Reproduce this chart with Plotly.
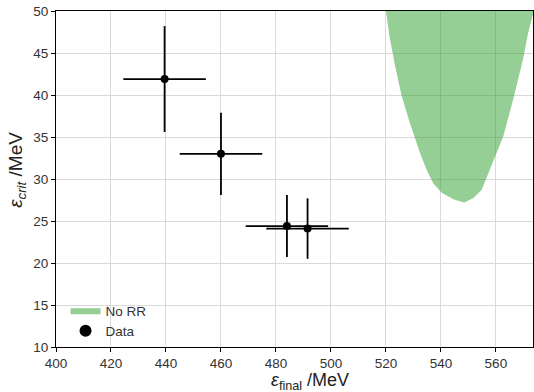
import plotly.graph_objects as go

# Data points
data_x = [439.5, 460.0, 484.0, 491.5]
data_y = [41.9, 33.0, 24.4, 24.1]
data_xerr = [15.0, 15.0, 15.0, 15.0]
data_yerr = [6.3, 4.9, 3.7, 3.6]

# "No RR" region boundary (left edge top->bottom, right edge bottom->top)
rr_left_x = [520.0, 521.5, 523.3, 525.7, 528.7, 532.4, 534.8, 537.2, 540.2, 544.5, 548.5]
rr_left_y = [50.0, 46.6, 43.5, 39.9, 36.7, 33.1, 31.1, 29.5, 28.4, 27.6, 27.2]
rr_right_x = [551.8, 554.8, 557.2, 560.2, 562.7, 566.3, 569.9, 571.8, 573.8, 573.8]
rr_right_y = [27.75, 28.7, 30.7, 33.1, 35.1, 39.5, 44.3, 47.5, 50.0, 50.0]

x_ticks = [400, 420, 440, 460, 480, 500, 520, 540, 560]
y_ticks = [10, 15, 20, 25, 30, 35, 40, 45, 50]

x_title = "<i>ε</i><sub>final</sub> /MeV"
y_title = "<i>ε<sub>crit</sub></i> /MeV"

FONT = "Liberation Sans, Arial, sans-serif"

fig = go.Figure()

fig.add_trace(go.Scatter(
    x=rr_left_x + rr_right_x,
    y=rr_left_y + rr_right_y,
    fill="toself",
    fillcolor="rgba(44,160,44,0.5)",
    mode="lines",
    line=dict(width=0, color="rgba(44,160,44,0.5)"),
    name="No RR",
))

fig.add_trace(go.Scatter(
    x=data_x, y=data_y,
    mode="markers",
    marker=dict(color="black", size=8),
    error_x=dict(type="data", array=data_xerr, color="black", thickness=1.8, width=0),
    error_y=dict(type="data", array=data_yerr, color="black", thickness=1.8, width=0),
    name="Data",
))

# semi-transparent legend frame
fig.add_shape(type="rect", xref="paper", yref="paper",
              x0=0.003, x1=0.325, y0=0.005, y1=0.27,
              fillcolor="rgba(255,255,255,0.85)", line=dict(width=0),
              layer="between")

# axis titles as annotations
fig.add_annotation(text=x_title, xref="paper", yref="paper",
                   x=0.532, y=-0.102, xanchor="center", yanchor="middle",
                   showarrow=False, font=dict(size=18, color="#222222"))
fig.add_annotation(text=y_title, xref="paper", yref="paper",
                   x=-0.082, y=0.527, xanchor="center", yanchor="middle",
                   textangle=-90, showarrow=False, font=dict(size=19, color="#222222"))

fig.update_layout(
    width=534, height=392,
    margin=dict(l=56, r=1, t=11, b=45),
    paper_bgcolor="white", plot_bgcolor="white",
    font=dict(family=FONT, color="#333333", size=13.5),
    showlegend=True,
    legend=dict(x=0.02, y=0.0, xanchor="left", yanchor="bottom",
                bgcolor="rgba(0,0,0,0)", font=dict(size=13.5, color="#333333"),
                itemsizing="constant", tracegroupgap=0, itemwidth=30),
)

fig.update_xaxes(
    range=[400, 573.5], tickvals=x_ticks, ticktext=[str(v) for v in x_ticks],
    showgrid=True, gridcolor="#d9d9d9", gridwidth=1,
    showline=True, linecolor="black", linewidth=1.2, mirror=True,
    ticks="outside", ticklen=4, tickcolor="black",
    zeroline=False, tickfont=dict(size=13.5),
)
fig.update_yaxes(
    range=[10, 50], tickvals=y_ticks, ticktext=[str(v) for v in y_ticks],
    showgrid=True, gridcolor="#d9d9d9", gridwidth=1,
    showline=True, linecolor="black", linewidth=1.2, mirror=True,
    ticks="outside", ticklen=4, tickcolor="black",
    zeroline=False, tickfont=dict(size=13.5),
)

fig.write_html("out.html")
